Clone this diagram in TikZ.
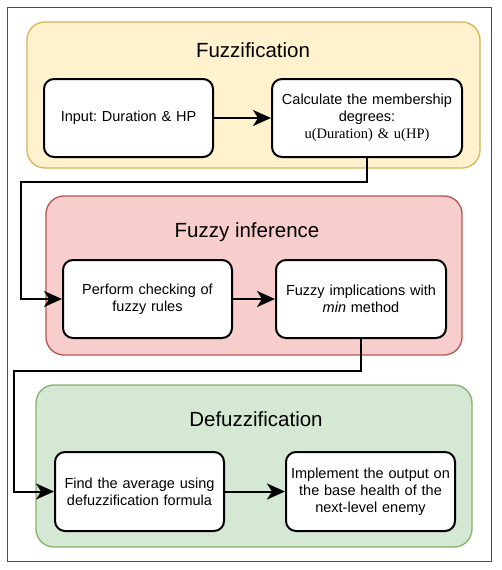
\documentclass[tikz,border=0pt]{standalone}
\usepackage{fontspec}
\setmainfont{Liberation Sans}
\newfontfamily\serifu{Liberation Serif}
\usetikzlibrary{arrows.meta}
\definecolor{yfill}{HTML}{FFF2CC}\definecolor{ydraw}{HTML}{D6B656}
\definecolor{rfill}{HTML}{F8CECC}\definecolor{rdraw}{HTML}{B85450}
\definecolor{gfill}{HTML}{D5E8D4}\definecolor{gdraw}{HTML}{82B366}
\frenchspacing
\begin{document}
\begin{tikzpicture}[x=1pt,y=-1pt,
  cont/.style={draw, line width=1.3pt, rounded corners=18pt, inner sep=0pt},
  box/.style={draw=black, fill=white, line width=2pt, rounded corners=10pt, inner sep=0pt, align=center,
    font=\fontsize{14.5}{17}\selectfont, text width=#1},
  box/.default=165pt,
  ttl/.style={font=\fontsize{20.5}{24}\selectfont},
  arr/.style={line width=2pt, -{Stealth[length=18pt,width=16pt,inset=5pt]}}]
\useasboundingbox (0,0) rectangle (502,570);
\draw[line width=0.9pt, black!70] (7,7) rectangle (491,561);
% containers
\node[cont, draw=ydraw, fill=yfill, minimum width=453pt, minimum height=146pt] (c1) at (253.5,95) {};
\node[cont, draw=rdraw, fill=rfill, minimum width=416pt, minimum height=159pt] (c2) at (254,275.5) {};
\node[cont, draw=gdraw, fill=gfill, minimum width=436pt, minimum height=162pt] (c3) at (254,466) {};
\node[ttl] (t1) at (253,50) {Fuzzification};
\node[ttl] (t2) at (247,232) {Fuzzy inference};
\node[ttl] (t3) at (256,419) {Defuzzification};
% boxes
\node[box, minimum width=169pt, minimum height=78pt] (b1) at (128.5,118) {Input: Duration \& HP};
\node[box=186pt, minimum width=190pt, minimum height=78pt] (b2) at (367,118) {Calculate the membership\\degrees:\\{\serifu u(Duration) \& u(HP)}};
\node[box, minimum width=169pt, minimum height=78pt] (b3) at (147.5,299) {Perform checking of\\fuzzy rules};
\node[box, minimum width=170pt, minimum height=78pt] (b4) at (361,299) {Fuzzy implications with\\\textit{min} method};
\node[box, minimum width=169pt, minimum height=79pt] (b5) at (139.5,491.5) {Find the average using\\defuzzification formula};
\node[box, minimum width=169pt, minimum height=79pt] (b6) at (370.5,491.5) {Implement the output on\\the base health of the\\next-level enemy};
% connectors
\coordinate (k1) at (21,182);
\coordinate (k2) at (14,371);
\draw[arr] (b1) -- (b2);
\draw[arr] (b3) -- (b4);
\draw[arr] (b5) -- (b6);
\draw[arr] (b2.south) |- (k1) |- (b3.west);
\draw[arr] (b4.south) |- (k2) |- (b5.west);
\end{tikzpicture}
\end{document}
